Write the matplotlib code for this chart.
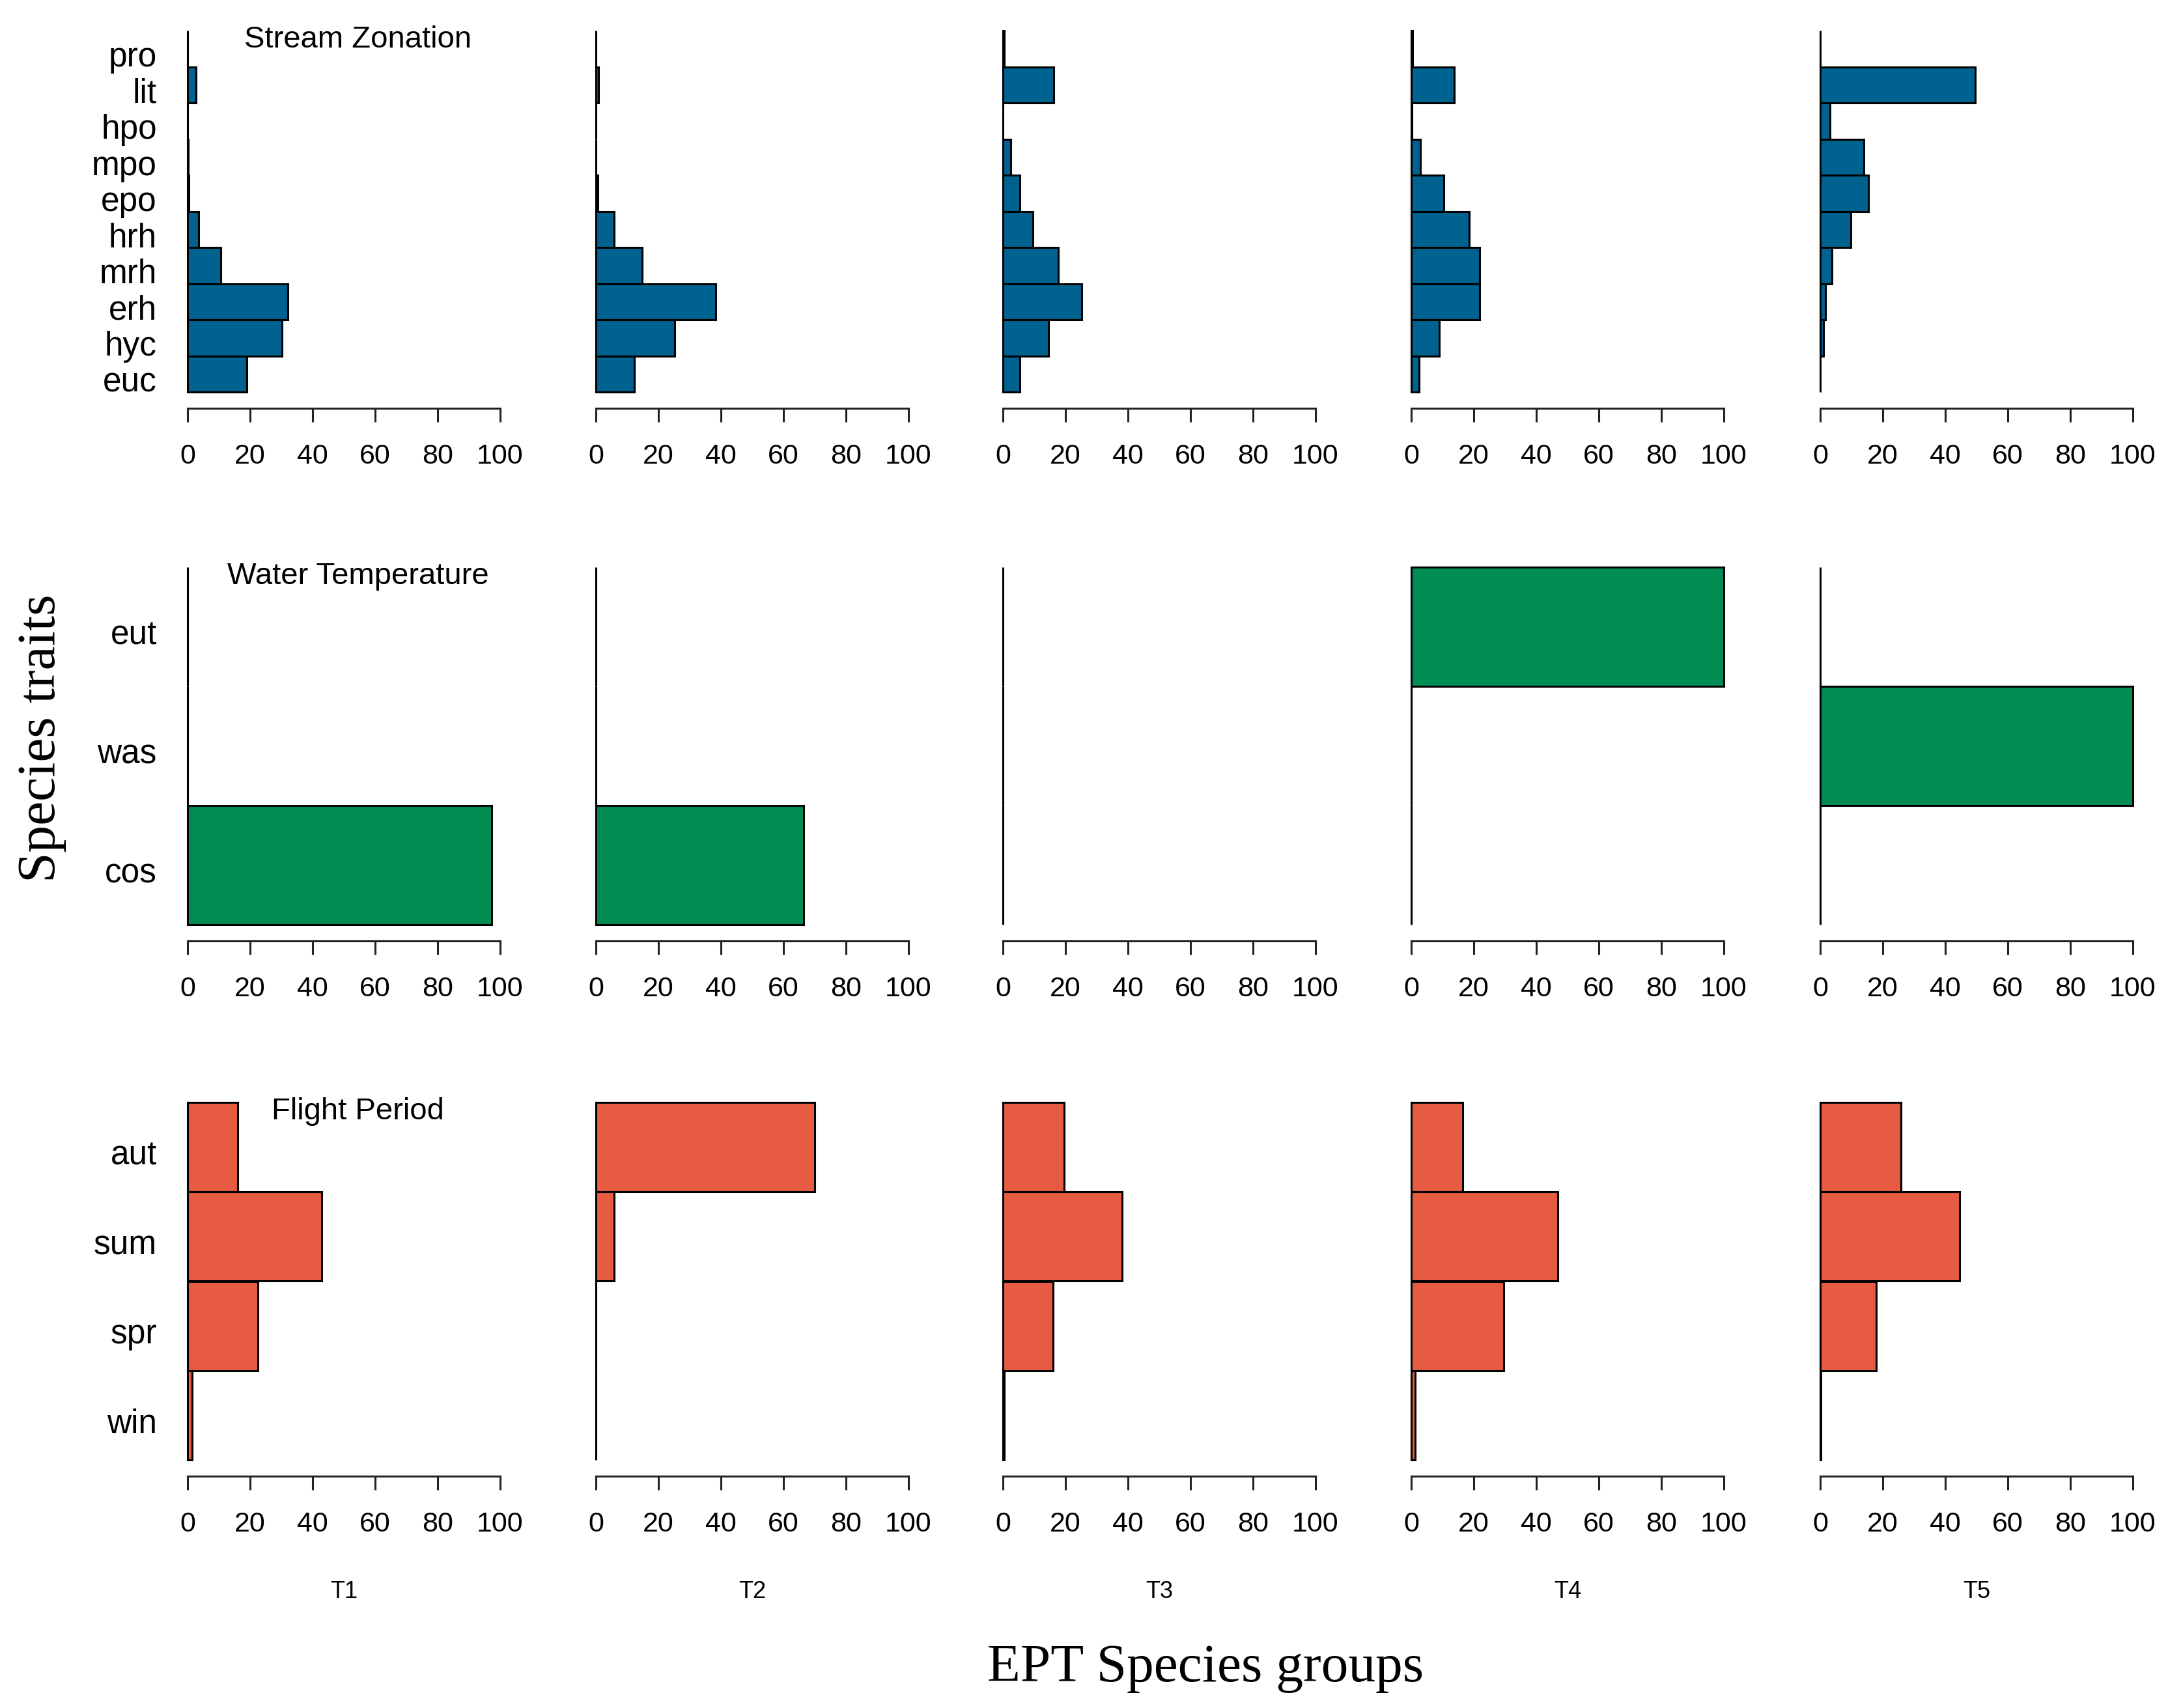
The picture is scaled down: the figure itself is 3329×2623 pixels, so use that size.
import matplotlib
matplotlib.use('Agg')
import matplotlib.pyplot as plt
import matplotlib.transforms as mtransforms

plt.rcParams['font.family'] = ['Liberation Sans', 'DejaVu Sans']

groups = ['T1', 'T2', 'T3', 'T4', 'T5']

# Stream Zonation (top to bottom)
zonation_classes = ['pro', 'lit', 'hpo', 'mpo', 'epo', 'hrh', 'mrh', 'erh', 'hyc', 'euc']
zonation_t1 = [0, 2.8, 0, 0.3, 0.5, 3.5, 10.7, 32.0, 30.2, 18.9]
zonation_t2 = [0, 0.8, 0, 0, 0.7, 5.8, 14.7, 38.3, 25.3, 12.3]
zonation_t3 = [0.5, 16.3, 0, 2.4, 5.4, 9.6, 17.8, 25.3, 14.5, 5.5]
zonation_t4 = [0.5, 13.8, 0.3, 2.9, 10.4, 18.5, 21.9, 21.8, 8.9, 2.4]
zonation_t5 = [0, 49.6, 3.1, 13.9, 15.5, 9.8, 3.8, 1.7, 1.0, 0]

# Water Temperature
temperature_classes = ['eut', 'was', 'cos']
temperature_t1 = [0, 0, 97.3]
temperature_t2 = [0, 0, 66.5]
temperature_t3 = [0, 0, 0]
temperature_t4 = [100, 0, 0]
temperature_t5 = [0, 100, 0]

# Flight Period
flight_classes = ['aut', 'sum', 'spr', 'win']
flight_t1 = [16.1, 43.0, 22.6, 1.4]
flight_t2 = [70.0, 5.9, 0, 0]
flight_t3 = [19.6, 38.1, 16.1, 0.5]
flight_t4 = [16.5, 46.9, 29.6, 1.2]
flight_t5 = [25.9, 44.5, 17.9, 0.3]

traits = [
    ('Stream Zonation', zonation_classes,
     [zonation_t1, zonation_t2, zonation_t3, zonation_t4, zonation_t5], '#00628f'),
    ('Water Temperature', temperature_classes,
     [temperature_t1, temperature_t2, temperature_t3, temperature_t4, temperature_t5], '#008c52'),
    ('Flight Period', flight_classes,
     [flight_t1, flight_t2, flight_t3, flight_t4, flight_t5], '#e85b43'),
]

W, H = 3330, 2623
fig = plt.figure(figsize=(W / 200, H / 200), dpi=200)

col_left = [288, 915, 1540, 2167, 2795]
col_width = 480
row_top = [47, 871, 1693]
row_bottom = [602, 1420, 2242]


def draw_panel(ax, classes, values, color, show_labels):
    n = len(classes)
    ypos = [n - 1 - i for i in range(n)]
    ax.barh(ypos, values, height=1.0, color=color, edgecolor='black',
            linewidth=1.1, clip_on=False)
    ax.set_xlim(0, 100)
    ax.set_ylim(-0.5, n - 0.5)
    for s in ['top', 'right', 'left']:
        ax.spines[s].set_visible(False)
    ax.spines['bottom'].set_position(('outward', 9.0))
    ax.spines['bottom'].set_bounds(0, 100)
    ax.spines['bottom'].set_linewidth(1.1)
    ax.spines['bottom'].set_color('#222222')
    ax.set_xticks([0, 20, 40, 60, 80, 100])
    ax.tick_params(axis='x', length=7.5, width=1.1, pad=12, labelsize=15.5,
                   color='#222222')
    ax.set_yticks(ypos)
    if show_labels:
        ax.set_yticklabels(classes)
        ax.tick_params(axis='y', length=0, pad=17, labelsize=18.5)
        # labels sit a little below the bar centres in the original
        shift = mtransforms.ScaledTranslation(0, -3.0 / 72, fig.dpi_scale_trans)
        for lab in ax.get_yticklabels():
            lab.set_transform(lab.get_transform() + shift)
    else:
        ax.set_yticklabels([])
        ax.tick_params(axis='y', length=0)
    ax.patch.set_alpha(0)


for r, (title, classes, series, color) in enumerate(traits):
    for c in range(5):
        bottom = 1 - row_bottom[r] / H
        height = (row_bottom[r] - row_top[r]) / H
        ax = fig.add_axes([col_left[c] / W, bottom, col_width / W, height])
        draw_panel(ax, classes, series[c], color, c == 0)
        if c == 0:
            ax.text(0.545, 0.975, title, transform=ax.transAxes, ha='center',
                    va='center', fontsize=17)

# group names under each column
for c, g in enumerate(groups):
    fig.text((col_left[c] + col_width / 2) / W, 1 - 2444 / H, g, ha='center',
             va='center', fontsize=13)

fig.text(1851 / W, 1 - 2562 / H, 'EPT Species groups', ha='center', va='center',
         fontsize=30, family=['Liberation Serif', 'DejaVu Serif'])
fig.text(64 / W, 1 - 1134 / H, 'Species traits', ha='center', va='center',
         rotation=90, fontsize=30, family=['Liberation Serif', 'DejaVu Serif'])

fig.savefig('out.png', dpi=200, facecolor='white')
